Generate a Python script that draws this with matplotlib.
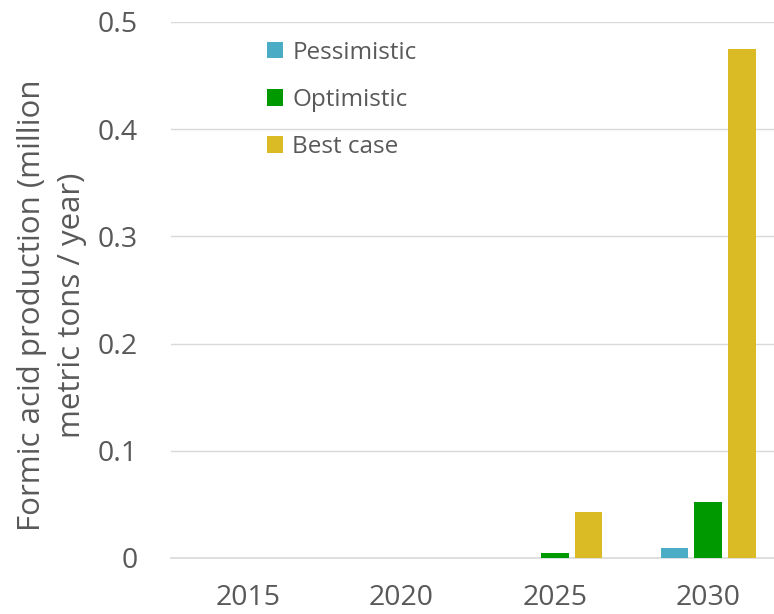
import matplotlib
matplotlib.use("Agg")
import matplotlib.pyplot as plt
import numpy as np

years = ["2015", "2020", "2025", "2030"]
series_names = ["Pessimistic", "Optimistic", "Best case"]
pessimistic = [0.0, 0.0, 0.0, 0.0096]
optimistic = [0.0, 0.0, 0.0044, 0.0525]
best_case = [0.0, 0.0, 0.043, 0.475]
colors = ["#4BACC6", "#009900", "#DBBB25"]

plt.rcParams["font.family"] = ["Open Sans", "DejaVu Sans"]
txt = "#595959"

fig = plt.figure(figsize=(7.74, 6.14), dpi=100)
left_px = 171
cat_px = 153.5
ax = fig.add_axes([left_px / 774, 56 / 614, (774 - left_px) / 774, (558 - 22) / 614])

x = np.arange(len(years))
w = 0.18
off = 0.221
for i, (vals, name) in enumerate(zip([pessimistic, optimistic, best_case], series_names)):
    ax.bar(x + (i - 1) * off, vals, width=w, color=colors[i], label=name, zorder=3)

ax.set_ylim(0, 0.5)
ax.set_xlim(-0.5, -0.5 + (774 - left_px) / cat_px)
ax.set_yticks([0, 0.1, 0.2, 0.3, 0.4, 0.5])
ax.set_yticklabels(["0", "0.1", "0.2", "0.3", "0.4", "0.5"])
ax.set_xticks(x)
ax.set_xticklabels(years)
ax.tick_params(axis="both", length=0, labelsize=20.5, colors=txt)
ax.tick_params(axis="y", pad=24)
ax.tick_params(axis="x", pad=19)
ax.grid(axis="y", color="#D9D9D9", linewidth=1, zorder=0)
for s in ["top", "right", "left"]:
    ax.spines[s].set_visible(False)
ax.spines["bottom"].set_color("#D9D9D9")
ax.spines["bottom"].set_linewidth(1.2)

fig.text(52 / 774, 1 - 305 / 614, "Formic acid production (million\nmetric tons / year)",
         rotation=90, ha="center", va="center", fontsize=22.5, color=txt, linespacing=1.4)

leg = ax.legend(loc="upper left", bbox_to_anchor=(245 / 774, 1 - 19 / 614), bbox_transform=fig.transFigure,
                frameon=False, fontsize=17.5, handlelength=0.65, handleheight=0.65,
                handletextpad=0.4, labelspacing=0.95, labelcolor=txt)

fig.savefig("out.png", dpi=100)
